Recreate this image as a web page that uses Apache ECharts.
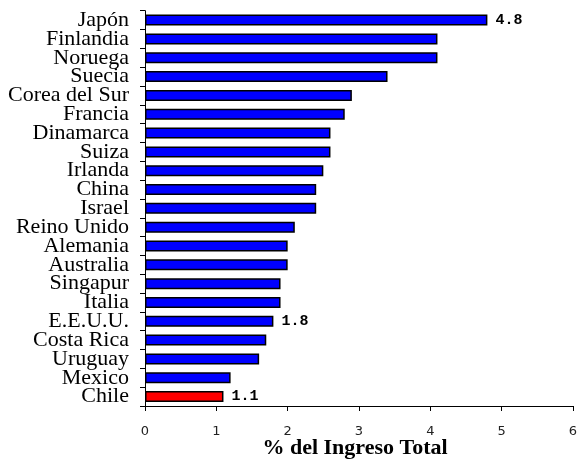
<!DOCTYPE html>
<html>
<head>
<meta charset="utf-8">
<script src="https://cdn.jsdelivr.net/npm/echarts@6/dist/echarts.min.js"></script>
<style>
html,body{margin:0;padding:0;background:#fff;}
#chart{width:579px;height:464px;}
</style>
</head>
<body>
<div id="chart"></div>
<script>
const categories = ["Japón","Finlandia","Noruega","Suecia","Corea del Sur","Francia","Dinamarca","Suiza","Irlanda","China","Israel","Reino Unido","Alemania","Australia","Singapur","Italia","E.E.U.U.","Costa Rica","Uruguay","Mexico","Chile"];
const values = [4.8,4.1,4.1,3.4,2.9,2.8,2.6,2.6,2.5,2.4,2.4,2.1,2.0,2.0,1.9,1.9,1.8,1.7,1.6,1.2,1.1];
const labeled = ["Japón","E.E.U.U.","Chile"];
const highlight = "Chile";
const xTicks = [0,1,2,3,4,5,6];

const data = categories.map((c,i)=>({
  value: values[i],
  itemStyle: { color: c === highlight ? '#ff0000' : '#0000ff' },
  label: { show: labeled.includes(c) }
}));

const chart = echarts.init(document.getElementById('chart'), null, {renderer:'canvas'});
chart.setOption({
  animation:false,
  backgroundColor:'#ffffff',
  grid:{left:145,right:6,top:10.7,bottom:58,containLabel:false,outerBoundsMode:'none'},
  xAxis:{
    type:'value', min:xTicks[0], max:xTicks[xTicks.length-1], interval:1,
    name:'% del Ingreso Total', nameLocation:'middle', nameGap:31, nameMoveOverlap:false,
    nameTextStyle:{fontFamily:'Liberation Serif',fontWeight:'bold',fontSize:22,color:'#000',lineHeight:22,verticalAlign:'top',padding:[0,8,0,0]},
    axisLine:{show:true,lineStyle:{color:'#000',width:1}},
    axisTick:{show:true,length:5,lineStyle:{color:'#000'}},
    axisLabel:{margin:19,fontFamily:'DejaVu Sans',fontSize:13,color:'#222'},
    splitLine:{show:false}
  },
  yAxis:{
    type:'category', data:categories, inverse:true,
    axisLine:{show:true,lineStyle:{color:'#000',width:1}},
    axisTick:{show:true,length:5,lineStyle:{color:'#000'}},
    axisLabel:{interval:0,margin:16,fontFamily:'Liberation Serif',fontSize:22,color:'#000',lineHeight:18}
  },
  series:[{
    type:'bar', data:data, barWidth:11,
    itemStyle:{borderColor:'#000',borderWidth:1.5},
    label:{position:'right',distance:8,fontFamily:'Liberation Mono',fontWeight:'bold',fontSize:15,color:'#000',
      formatter:p=>p.value.toFixed(1)}
  }]
});
</script>
</body>
</html>
